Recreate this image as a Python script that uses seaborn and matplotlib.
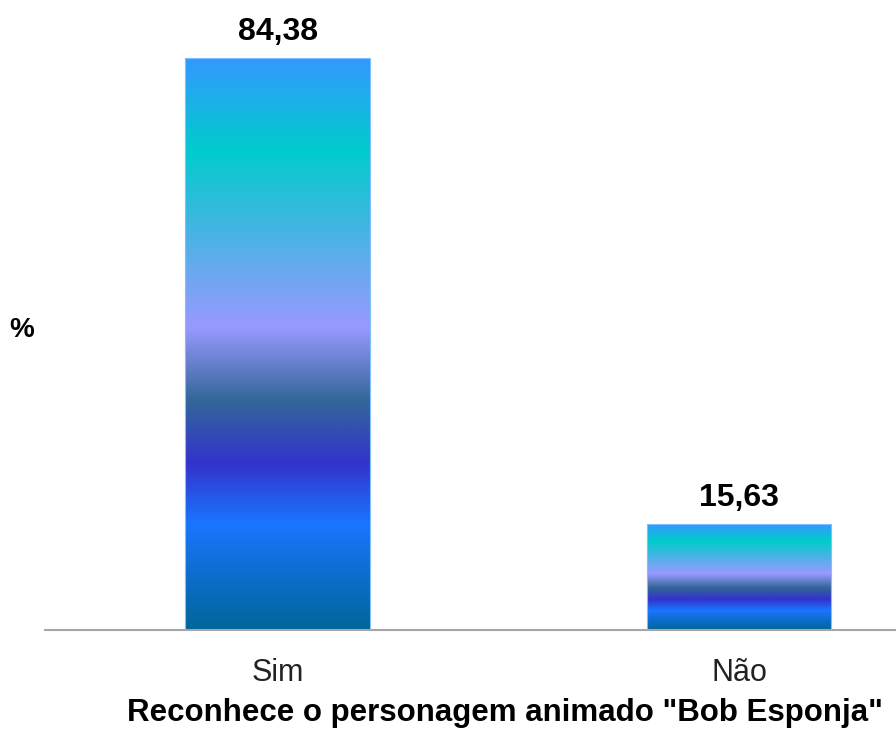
import matplotlib
matplotlib.use('Agg')
import matplotlib.pyplot as plt
from matplotlib.colors import LinearSegmentedColormap
import pandas as pd
import seaborn as sns
import numpy as np

categories = ['Sim', 'Não']
values = [84.38, 15.63]
value_labels = ['84,38', '15,63']
xlabel = 'Reconhece o personagem animado "Bob Esponja"'

# gradient stops, top of bar -> bottom of bar
grad_pos = [0.0, 0.16, 0.47, 0.60, 0.71, 0.815, 1.0]
grad_cols = ['#3399ff', '#00cccc', '#9999ff', '#336699', '#3333cc', '#1a75ff', '#006699']

sns.set_theme(style='white')
plt.rcParams['font.family'] = ['Liberation Sans', 'DejaVu Sans']

df = pd.DataFrame({'cat': categories, 'val': values})

fig = plt.figure(figsize=(8.96, 7.29), dpi=100)
ax = fig.add_axes([45 / 896, 1 - 630 / 729, 1 - 45 / 896, 620 / 729])
sns.barplot(data=df, x='cat', y='val', ax=ax, width=0.4, color='#3399ff')

cmap = LinearSegmentedColormap.from_list('bob', list(zip(grad_pos, grad_cols)))
grad = np.linspace(0, 1, 256).reshape(-1, 1)
for p, lab in zip(ax.patches, value_labels):
    x0, y0 = p.get_x(), p.get_y()
    w, h = p.get_width(), p.get_height()
    ax.imshow(grad, cmap=cmap, aspect='auto', extent=[x0, x0 + w, y0, y0 + h],
              origin='upper', zorder=2, interpolation='bilinear')
    p.set_facecolor('none')
    p.set_edgecolor('#7fbfff')
    p.set_linewidth(0.8)
    p.set_zorder(3)
    ax.text(x0 + w / 2, h + 2.65, lab, ha='center', va='baseline',
            fontsize=23, fontweight='bold', color='black')

ax.set_xlim(-0.504, 1.34)
ax.set_ylim(0, 91.5)
for s in ['top', 'right', 'left']:
    ax.spines[s].set_visible(False)
ax.spines['bottom'].set_color('#a6a6a6')
ax.spines['bottom'].set_linewidth(1.5)
ax.set_yticks([])
ax.tick_params(axis='x', length=0, labelsize=22, pad=20, colors='#222222')
ax.set_xlabel(xlabel, fontsize=22.5, fontweight='bold', va='baseline', color='black')
ax.xaxis.set_label_coords(0.54, -0.146)
ax.set_ylabel('%', fontsize=20, fontweight='bold', rotation=0, va='center', color='black')
ax.yaxis.set_label_coords(-0.028, 0.484)

fig.savefig('out.png', dpi=100)
